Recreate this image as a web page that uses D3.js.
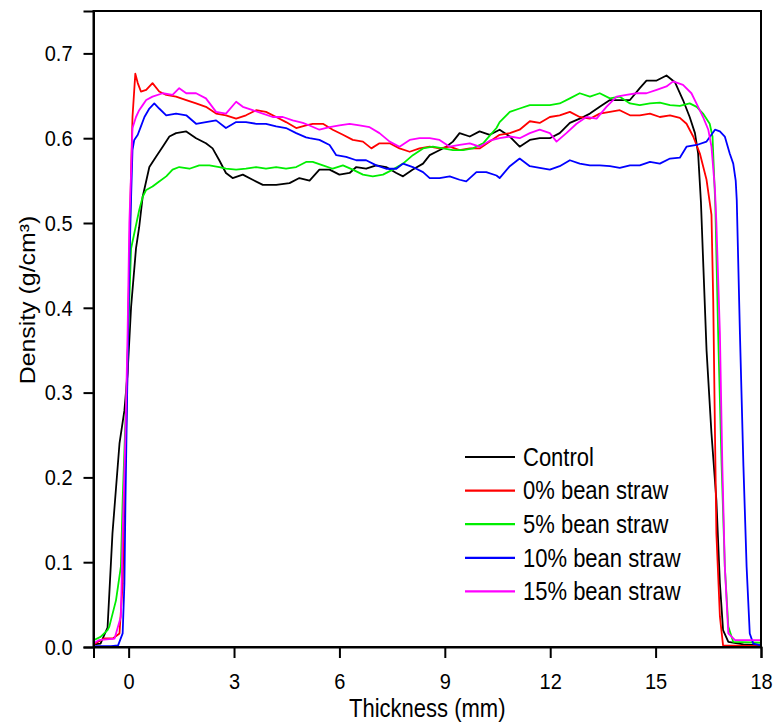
<!DOCTYPE html>
<html>
<head>
<meta charset="utf-8">
<script src="https://cdn.jsdelivr.net/npm/d3@7"></script>
<style>
  html, body { margin: 0; padding: 0; background: #fff; }
</style>
</head>
<body>
<div id="chart"></div>
<script>
// density profiles, [thickness mm, density g/cm3]
const control = [
  [-1.0, 0.003], [-0.8, 0.004], [-0.6, 0.023], [-0.46, 0.134], [-0.26, 0.24], [-0.12, 0.279],
  [-0.03, 0.323], [0.07, 0.401], [0.21, 0.47], [0.3, 0.495], [0.4, 0.531], [0.59, 0.566],
  [0.78, 0.578], [0.97, 0.59], [1.16, 0.602], [1.35, 0.606], [1.64, 0.608], [1.92, 0.6],
  [2.2, 0.594], [2.39, 0.588], [2.58, 0.574], [2.77, 0.559], [2.96, 0.553], [3.25, 0.557],
  [3.53, 0.551], [3.82, 0.545], [4.2, 0.545], [4.58, 0.547], [4.86, 0.553], [5.15, 0.55],
  [5.43, 0.563], [5.72, 0.563], [6.0, 0.557], [6.29, 0.559], [6.48, 0.566], [6.76, 0.564],
  [7.05, 0.568], [7.33, 0.566], [7.62, 0.559], [7.81, 0.555], [8.09, 0.563], [8.38, 0.57],
  [8.57, 0.58], [8.76, 0.584], [9.04, 0.59], [9.23, 0.596], [9.42, 0.606], [9.71, 0.602],
  [9.99, 0.608], [10.28, 0.604], [10.56, 0.61], [10.85, 0.602], [11.13, 0.59], [11.42, 0.598],
  [11.7, 0.6], [11.99, 0.6], [12.27, 0.606], [12.56, 0.618], [12.84, 0.623], [13.13, 0.629],
  [13.41, 0.637], [13.7, 0.645], [13.98, 0.645], [14.27, 0.645], [14.55, 0.659], [14.74, 0.668],
  [15.03, 0.668], [15.31, 0.674], [15.55, 0.666], [15.78, 0.645], [15.97, 0.625], [16.12, 0.606],
  [16.21, 0.582], [16.29, 0.525], [16.36, 0.448], [16.45, 0.35], [16.59, 0.252], [16.73, 0.173],
  [16.83, 0.075], [16.92, 0.02], [17.07, 0.006], [17.5, 0.003], [18.0, 0.002],
];

const bean0 = [
  [-1.0, 0.003], [-0.7, 0.01], [-0.45, 0.01], [-0.26, 0.016], [-0.17, 0.075], [-0.12, 0.173],
  [-0.03, 0.33], [0.02, 0.46], [0.07, 0.56], [0.11, 0.625], [0.19, 0.676], [0.26, 0.665],
  [0.35, 0.655], [0.5, 0.657], [0.68, 0.665], [0.87, 0.655], [1.07, 0.651], [1.35, 0.649],
  [1.64, 0.645], [1.92, 0.641], [2.2, 0.637], [2.49, 0.629], [2.77, 0.627], [3.06, 0.623],
  [3.34, 0.627], [3.63, 0.633], [3.91, 0.631], [4.2, 0.625], [4.48, 0.619], [4.77, 0.612],
  [5.05, 0.615], [5.24, 0.617], [5.53, 0.617], [5.81, 0.61], [6.1, 0.604], [6.38, 0.598],
  [6.67, 0.596], [6.91, 0.588], [7.14, 0.594], [7.43, 0.594], [7.71, 0.588], [8.0, 0.584],
  [8.28, 0.588], [8.57, 0.59], [8.85, 0.588], [9.14, 0.59], [9.42, 0.586], [9.71, 0.588],
  [9.99, 0.588], [10.28, 0.596], [10.56, 0.604], [10.85, 0.606], [11.13, 0.61], [11.42, 0.62],
  [11.7, 0.618], [11.99, 0.625], [12.27, 0.627], [12.56, 0.631], [12.84, 0.625], [13.13, 0.623],
  [13.41, 0.629], [13.7, 0.631], [13.98, 0.633], [14.27, 0.627], [14.55, 0.627], [14.84, 0.629],
  [15.12, 0.625], [15.41, 0.627], [15.69, 0.624], [15.88, 0.617], [16.07, 0.602], [16.26, 0.582],
  [16.45, 0.551], [16.59, 0.51], [16.64, 0.409], [16.69, 0.252], [16.73, 0.134], [16.83, 0.036],
  [16.92, 0.002], [18.0, 0.001],
];

const bean5 = [
  [-1.0, 0.008], [-0.8, 0.012], [-0.6, 0.02], [-0.55, 0.024], [-0.36, 0.055], [-0.22, 0.095],
  [-0.17, 0.173], [-0.07, 0.291], [0.02, 0.409], [0.07, 0.47], [0.3, 0.515], [0.4, 0.531],
  [0.5, 0.539], [0.68, 0.543], [0.87, 0.549], [1.07, 0.555], [1.25, 0.563], [1.44, 0.566],
  [1.73, 0.564], [2.01, 0.568], [2.3, 0.568], [2.58, 0.566], [2.77, 0.564], [3.06, 0.563],
  [3.34, 0.564], [3.63, 0.566], [3.91, 0.564], [4.2, 0.566], [4.48, 0.564], [4.77, 0.566],
  [5.05, 0.572], [5.24, 0.572], [5.53, 0.568], [5.81, 0.564], [6.1, 0.568], [6.38, 0.563],
  [6.67, 0.557], [6.95, 0.555], [7.24, 0.557], [7.52, 0.563], [7.81, 0.57], [8.09, 0.58],
  [8.38, 0.588], [8.66, 0.59], [8.95, 0.588], [9.23, 0.586], [9.52, 0.586], [9.8, 0.588],
  [10.09, 0.594], [10.28, 0.603], [10.47, 0.612], [10.56, 0.619], [10.85, 0.631], [11.13, 0.635],
  [11.42, 0.639], [11.7, 0.639], [11.99, 0.639], [12.27, 0.641], [12.56, 0.647], [12.84, 0.653],
  [13.13, 0.649], [13.41, 0.653], [13.7, 0.647], [13.98, 0.649], [14.27, 0.641], [14.55, 0.639],
  [14.84, 0.641], [15.12, 0.642], [15.41, 0.639], [15.69, 0.638], [15.97, 0.641], [16.17, 0.637],
  [16.35, 0.629], [16.54, 0.617], [16.62, 0.602], [16.7, 0.52], [16.78, 0.37], [16.88, 0.213],
  [16.97, 0.095], [17.07, 0.024], [17.21, 0.006], [18.0, 0.005],
];

const bean10 = [
  [-1.0, 0.001], [-0.5, 0.001], [-0.3, 0.002], [-0.17, 0.016], [-0.12, 0.075], [-0.09, 0.173],
  [-0.03, 0.331], [0.02, 0.448], [0.07, 0.53], [0.11, 0.586], [0.16, 0.598], [0.26, 0.604],
  [0.35, 0.614], [0.45, 0.625], [0.59, 0.635], [0.73, 0.641], [0.87, 0.635], [1.07, 0.627],
  [1.35, 0.629], [1.64, 0.627], [1.92, 0.617], [2.2, 0.619], [2.49, 0.621], [2.77, 0.612],
  [3.06, 0.619], [3.34, 0.619], [3.63, 0.617], [3.91, 0.617], [4.2, 0.614], [4.48, 0.612],
  [4.77, 0.606], [5.05, 0.601], [5.15, 0.6], [5.43, 0.598], [5.72, 0.592], [5.91, 0.58],
  [6.19, 0.578], [6.48, 0.574], [6.76, 0.574], [7.05, 0.568], [7.33, 0.564], [7.62, 0.564],
  [7.81, 0.57], [8.09, 0.566], [8.38, 0.56], [8.57, 0.553], [8.85, 0.553], [9.14, 0.555],
  [9.42, 0.551], [9.61, 0.549], [9.9, 0.56], [10.18, 0.56], [10.47, 0.556], [10.56, 0.553],
  [10.85, 0.567], [11.13, 0.576], [11.42, 0.567], [11.7, 0.565], [11.99, 0.563], [12.27, 0.567],
  [12.56, 0.574], [12.84, 0.57], [13.13, 0.568], [13.41, 0.568], [13.7, 0.567], [13.98, 0.565],
  [14.27, 0.568], [14.55, 0.568], [14.84, 0.572], [15.12, 0.57], [15.41, 0.576], [15.69, 0.577],
  [15.88, 0.59], [16.17, 0.592], [16.45, 0.596], [16.69, 0.61], [16.83, 0.608], [16.97, 0.602],
  [17.11, 0.582], [17.21, 0.57], [17.28, 0.55], [17.31, 0.527], [17.4, 0.37], [17.5, 0.213],
  [17.59, 0.095], [17.68, 0.016], [17.78, 0.004], [18.0, 0.002],
];

const bean15 = [
  [-1.0, 0.004], [-0.85, 0.008], [-0.4, 0.01], [-0.22, 0.036], [-0.17, 0.134], [-0.09, 0.252],
  [-0.03, 0.37], [0.02, 0.5], [0.07, 0.56], [0.11, 0.612], [0.21, 0.625], [0.3, 0.633],
  [0.4, 0.639], [0.5, 0.645], [0.68, 0.649], [0.97, 0.653], [1.25, 0.651], [1.44, 0.659],
  [1.64, 0.653], [1.92, 0.653], [2.2, 0.647], [2.49, 0.631], [2.77, 0.629], [3.06, 0.643],
  [3.25, 0.637], [3.53, 0.633], [3.82, 0.629], [4.1, 0.625], [4.39, 0.625], [4.67, 0.621],
  [4.96, 0.618], [5.15, 0.615], [5.43, 0.61], [5.72, 0.613], [6.0, 0.615], [6.29, 0.617],
  [6.57, 0.615], [6.86, 0.613], [7.14, 0.606], [7.43, 0.596], [7.71, 0.59], [8.0, 0.598],
  [8.28, 0.6], [8.57, 0.6], [8.85, 0.598], [9.14, 0.59], [9.42, 0.592], [9.71, 0.594],
  [9.99, 0.59], [10.28, 0.597], [10.56, 0.6], [10.85, 0.602], [11.13, 0.6], [11.42, 0.606],
  [11.7, 0.61], [11.99, 0.606], [12.18, 0.596], [12.46, 0.606], [12.75, 0.617], [13.03, 0.625],
  [13.32, 0.623], [13.6, 0.637], [13.89, 0.649], [14.17, 0.651], [14.46, 0.653], [14.74, 0.653],
  [15.03, 0.657], [15.31, 0.661], [15.5, 0.667], [15.78, 0.663], [16.02, 0.653], [16.21, 0.637],
  [16.35, 0.625], [16.5, 0.61], [16.59, 0.59], [16.69, 0.539], [16.73, 0.5], [16.83, 0.37],
  [16.9, 0.213], [16.97, 0.095], [17.07, 0.016], [17.26, 0.008], [18.0, 0.008],
];

const seriesNames = ['Control', '0% bean straw', '5% bean straw', '10% bean straw', '15% bean straw'];
const seriesValues = [control, bean0, bean5, bean10, bean15];
const seriesColors = ['#000000', '#ff0000', '#00ee00', '#0000ff', '#ff00ff'];

const xTicks = [0, 3, 6, 9, 12, 15, 18];
const yTicks = [0, 0.1, 0.2, 0.3, 0.4, 0.5, 0.6, 0.7];

const width = 774;
const height = 727;
const margins = {top: 11, right: 13, bottom: 80, left: 93.5};
const font = 'Arial, "Liberation Sans", sans-serif';
const stretch = 1.13; // the original glyphs are a bit taller than wide

const chartWidth = width - margins.left - margins.right;
const chartHeight = height - margins.top - margins.bottom;

const svg = d3
  .select('#chart')
  .append('svg')
  .attr('width', width)
  .attr('height', height)
  .append('g')
  .attr('transform', 'translate(' + margins.left + ',' + margins.top + ')');

const x = d3.scaleLinear().domain([-1, 18]).range([0, chartWidth]);
const y = d3.scaleLinear().domain([0, 0.75]).range([chartHeight, 0]);

svg
  .append('clipPath')
  .attr('id', 'plot-clip')
  .append('rect')
  .attr('width', chartWidth)
  .attr('height', chartHeight);

const line = d3.line().x((d) => x(d[0])).y((d) => y(d[1]));

svg
  .append('g')
  .attr('clip-path', 'url(#plot-clip)')
  .selectAll('path')
  .data(seriesValues)
  .join('path')
  .attr('d', line)
  .attr('fill', 'none')
  .attr('stroke', (d, i) => seriesColors[i])
  .attr('stroke-width', 1.8)
  .attr('stroke-linejoin', 'round');

// X Axis
const xAxis = svg
  .append('g')
  .attr('transform', 'translate(0,' + chartHeight + ')')
  .call(d3.axisBottom(x).tickValues(xTicks).tickSize(11).tickFormat(d3.format('d')));

xAxis
  .selectAll('.tick text')
  .attr('y', 0)
  .attr('dy', '0.71em')
  .attr('transform', `translate(0,26) scale(1,${stretch})`);

// Y Axis
const yAxis = svg
  .append('g')
  .call(d3.axisLeft(y).tickValues(yTicks).tickSize(10).tickFormat(d3.format('.1f')));

yAxis
  .selectAll('.tick text')
  .attr('x', 0)
  .attr('transform', `translate(-21,0) scale(1,${stretch})`);

svg.selectAll('.domain').attr('stroke-width', 2);
svg.selectAll('.tick line').attr('stroke-width', 2);
svg
  .selectAll('.tick text')
  .attr('font-family', font)
  .attr('font-size', 20)
  .attr('fill', '#000');

// frame
svg
  .append('rect')
  .attr('width', chartWidth)
  .attr('height', chartHeight)
  .attr('fill', 'none')
  .attr('stroke', '#000')
  .attr('stroke-width', 2);

// axis titles
svg
  .append('text')
  .attr('transform', `translate(${chartWidth / 2},${chartHeight + 70}) scale(1,${stretch})`)
  .attr('text-anchor', 'middle')
  .attr('font-family', font)
  .attr('font-size', 22)
  .text('Thickness (mm)');

svg
  .append('text')
  .attr('transform', `translate(${35 - margins.left},${300 - margins.top}) rotate(-90) scale(${stretch},1)`)
  .attr('text-anchor', 'middle')
  .attr('font-family', font)
  .attr('font-size', 22)
  .text('Density (g/cm³)');

// legend
const legend = svg
  .append('g')
  .attr('transform', `translate(${465 - margins.left},${457 - margins.top})`);

const rows = legend
  .selectAll('g')
  .data(seriesNames)
  .join('g')
  .attr('transform', (d, i) => `translate(0,${i * 33.6})`);

rows
  .append('line')
  .attr('x1', 0)
  .attr('x2', 50)
  .attr('stroke', (d, i) => seriesColors[i])
  .attr('stroke-width', 2.2);

rows
  .append('text')
  .attr('transform', `translate(58,0) scale(1,${stretch})`)
  .attr('dy', '0.35em')
  .attr('font-family', font)
  .attr('font-size', 22)
  .text((d) => d);
</script>
</body>
</html>
